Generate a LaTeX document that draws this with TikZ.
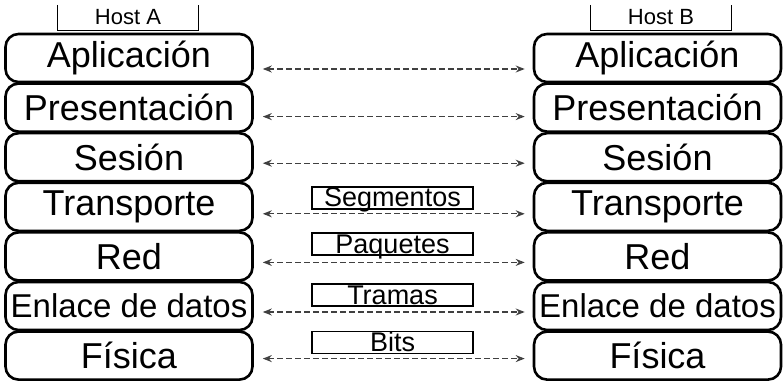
\documentclass[tikz,border=0pt]{standalone}
\usepackage{fontspec}
\setmainfont{Liberation Sans}
\usetikzlibrary{arrows.meta}
\begin{document}
\begin{tikzpicture}[x=1pt,y=-1pt,
  layer/.style={draw=black, line width=2.6pt, rounded corners=13pt, minimum width=247pt, minimum height=48pt, inner sep=0pt, font=\fontsize{36}{36}\selectfont},
  hostlbl/.style={minimum width=140pt, minimum height=25pt, inner sep=0pt, font=\fontsize{22}{22}\selectfont},
  pdu/.style={draw=black, line width=1.2pt, minimum width=161pt, text height=19.5pt, text depth=1.5pt, inner ysep=0.5pt, inner xsep=0pt, font=\fontsize{27}{27}\selectfont},
  peer/.style={draw=black!75, line width=1.3pt, dash pattern=on 6pt off 3pt, {Stealth[open,length=9pt,width=7pt]}-{Stealth[open,length=9pt,width=7pt]}, shorten <=9pt, shorten >=8pt}]
\useasboundingbox (0,0) rectangle (784,382);
% hosts
\node[hostlbl] (hA) at (128,17.5) {Host A};
\node[hostlbl] (hB) at (661,17.5) {Host B};
\draw[line width=1.2pt] (hA.north west) -- (hA.south west) -- (hA.south east) -- (hA.north east);
\draw[line width=1.2pt] (hB.north west) -- (hB.south west) -- (hB.south east) -- (hB.north east);
% left stack
\node[layer] (L1) at (129,58)    {Aplicación};
\node[layer] (L2) at (129,107.6) {Presentación};
\node[layer] (L3) at (129,157.2) {Sesión};
\node[layer] (L4) at (129,206.8) {Transporte};
\node[layer] (L5) at (129,256.4) {Red};
\node[layer,font=\fontsize{33}{33}\selectfont] (L6) at (129,306) {Enlace de datos};
\node[layer] (L7) at (129,355.6) {Física};
% right stack
\node[layer] (R1) at (657.5,58)    {Aplicación};
\node[layer] (R2) at (657.5,107.6) {Presentación};
\node[layer] (R3) at (657.5,157.2) {Sesión};
\node[layer] (R4) at (657.5,206.8) {Transporte};
\node[layer] (R5) at (657.5,256.4) {Red};
\node[layer,font=\fontsize{33}{33}\selectfont] (R6) at (657.5,306) {Enlace de datos};
\node[layer] (R7) at (657.5,355.6) {Física};
% peer arrows
\draw[peer] ([yshift=-11pt]L1.east) -- ([yshift=-11pt]R1.west);
\draw[peer] ([yshift=-9pt]L2.east) -- ([yshift=-9pt]R2.west);
\draw[peer] ([yshift=-6pt]L3.east) -- ([yshift=-6pt]R3.west);
\draw[peer] ([yshift=-7pt]L4.east) -- ([yshift=-7pt]R4.west);
\draw[peer] ([yshift=-6pt]L5.east) -- ([yshift=-6pt]R5.west);
\draw[peer] ([yshift=-6pt]L6.east) -- ([yshift=-6pt]R6.west);
\draw[peer] ([yshift=-3pt]L7.east) -- ([yshift=-3pt]R7.west);
% PDU labels
\node[pdu] (pS) at (392.5,198)   {Segmentos};
\node[pdu] (pP) at (392.5,244)   {Paquetes};
\node[pdu] (pT) at (392.5,295)   {Tramas};
\node[pdu] (pB) at (392.5,342.5) {Bits};
\end{tikzpicture}
\end{document}
